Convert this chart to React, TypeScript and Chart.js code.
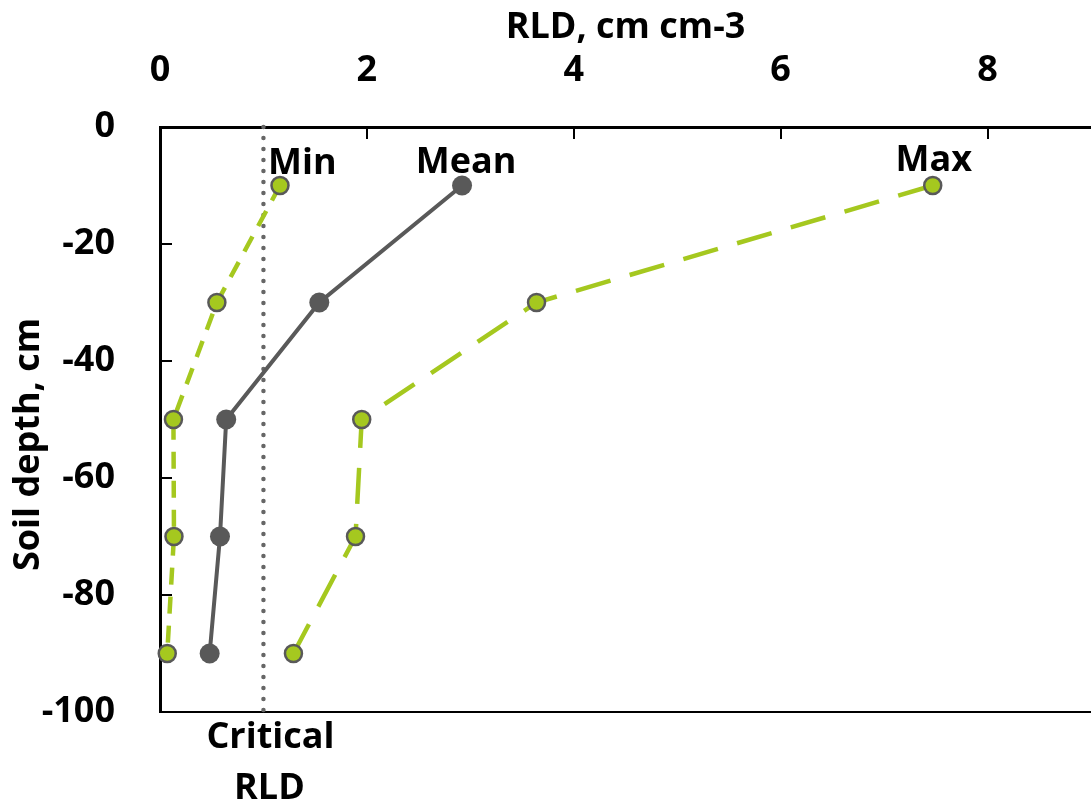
import React, { useEffect, useRef } from 'react';
import { Chart, registerables } from 'chart.js';

Chart.register(...registerables);

// ---- data ----
const depths = [-10, -30, -50, -70, -90];
const minRLD = [1.16, 0.55, 0.13, 0.135, 0.07];
const meanRLD = [2.92, 1.54, 0.64, 0.58, 0.48];
const maxRLD = [7.47, 3.64, 1.95, 1.89, 1.29];
const criticalRLD = 1.0;
const criticalDepthRange = [0, -100];

const xRange = [0, 9];
const xStep = 2;
const yRange = [-100, 0];
const yStep = 20;

const xTitle = 'RLD, cm cm-3';
const yTitle = 'Soil depth, cm';
const seriesNames = ['Min', 'Mean', 'Max'];
const criticalLabel = ['Critical', 'RLD'];

// ---- styles ----
const GREEN = '#A5C81F';
const GRAY = '#595959';
const FAMILY = '"Open Sans", "Noto Sans", sans-serif';
const FONT_SIZE = 36;
const FONT_CSS = `bold ${FONT_SIZE}px ${FAMILY}`;

const toPoints = (xs: number[]) => xs.map((x, i) => ({ x, y: depths[i] }));

const decorations = {
  id: 'decorations',
  beforeDatasetsDraw(chart: any) {
    const { ctx, chartArea: a, scales } = chart;
    const x = scales.x;
    const y = scales.y;
    ctx.save();
    ctx.strokeStyle = '#000';
    ctx.lineWidth = 2;
    ctx.beginPath();
    ctx.moveTo(a.left, a.bottom);
    ctx.lineTo(a.right, a.bottom);
    x.ticks.forEach((t: any) => {
      const px = Math.round(x.getPixelForValue(t.value));
      ctx.moveTo(px, a.top);
      ctx.lineTo(px, a.top + 12);
    });
    y.ticks.forEach((t: any) => {
      const py = Math.round(y.getPixelForValue(t.value));
      ctx.moveTo(a.left, py);
      ctx.lineTo(a.left + 12, py);
    });
    ctx.stroke();
    ctx.restore();
  },
  afterDraw(chart: any) {
    const { ctx, chartArea: a, scales } = chart;
    const x = scales.x;
    const y = scales.y;
    ctx.save();
    ctx.fillStyle = '#000';
    ctx.font = FONT_CSS;
    ctx.textBaseline = 'alphabetic';

    // series labels near the first (shallowest) point
    const y0 = y.getPixelForValue(depths[0]);
    ctx.textAlign = 'left';
    ctx.fillText(seriesNames[0], x.getPixelForValue(minRLD[0]) - 12, y0 - 12);
    ctx.textAlign = 'center';
    ctx.fillText(seriesNames[1], x.getPixelForValue(meanRLD[0]) + 4, y0 - 13);
    ctx.fillText(seriesNames[2], x.getPixelForValue(maxRLD[0]) + 1, y0 - 15);

    // critical RLD label below the axis
    const cx = x.getPixelForValue(criticalRLD) + 7;
    ctx.fillText(criticalLabel[0], cx, a.bottom + 36);
    ctx.fillText(criticalLabel[1], cx - 1, a.bottom + 87);

    // y-axis title
    ctx.translate(29, (a.top + a.bottom) / 2 + 25);
    ctx.rotate(-Math.PI / 2);
    ctx.textAlign = 'center';
    ctx.textBaseline = 'middle';
    ctx.fillText(yTitle, 0, 0);
    ctx.restore();
  },
};

export default function App() {
  const ref = useRef<HTMLCanvasElement>(null);

  useEffect(() => {
    document.body.style.margin = '0';
    document.body.style.overflow = 'hidden';
    let chart: Chart | null = null;
    let cancelled = false;

    const build = () => {
      if (cancelled || !ref.current) return;
      const tickFont = { family: FAMILY, size: FONT_SIZE, weight: 'bold' as const };
      chart = new Chart(ref.current, {
        type: 'scatter',
        data: {
          datasets: [
            {
              label: 'Mean',
              data: toPoints(meanRLD),
              showLine: true,
              borderColor: GRAY,
              borderWidth: 4,
              pointRadius: 10,
              pointBackgroundColor: GRAY,
              pointBorderColor: GRAY,
              pointBorderWidth: 0,
              clip: false,
            },
            {
              label: 'Min',
              data: toPoints(minRLD),
              showLine: true,
              borderColor: GREEN,
              borderWidth: 4.5,
              borderDash: [17, 12],
              pointRadius: 8.5,
              pointBackgroundColor: GREEN,
              pointBorderColor: GRAY,
              pointBorderWidth: 2.5,
              clip: false,
            },
            {
              label: 'Max',
              data: toPoints(maxRLD),
              showLine: true,
              borderColor: GREEN,
              borderWidth: 4.5,
              borderDash: [36, 20],
              pointRadius: 8.5,
              pointBackgroundColor: GREEN,
              pointBorderColor: GRAY,
              pointBorderWidth: 2.5,
              clip: false,
            },
            {
              label: 'Critical RLD',
              data: criticalDepthRange.map((d) => ({ x: criticalRLD, y: d })),
              showLine: true,
              borderColor: '#666666',
              borderWidth: 4.5,
              borderDash: [0, 11],
              borderCapStyle: 'round',
              pointRadius: 0,
              clip: false,
            },
          ] as any,
        },
        options: {
          responsive: false,
          animation: false,
          devicePixelRatio: 1,
          layout: { autoPadding: false, padding: { top: 0, left: 0, right: 0, bottom: 89 } },
          plugins: {
            legend: { display: false },
            tooltip: { enabled: false },
          },
          scales: {
            x: {
              type: 'linear',
              position: 'top',
              min: xRange[0],
              max: xRange[1],
              ticks: {
                stepSize: xStep,
                includeBounds: false,
                padding: 35,
                color: '#000',
                font: tickFont,
                maxRotation: 0,
                autoSkip: false,
              },
              grid: { display: false, drawTicks: false },
              border: { display: true, color: '#000', width: 3 },
              title: {
                display: true,
                text: xTitle,
                color: '#000',
                font: tickFont,
                padding: { top: 6, bottom: 0 },
              },
              afterFit: (s: any) => {
                s.height = 127;
                s.paddingLeft = 0;
                s.paddingRight = 0;
              },
            },
            y: {
              type: 'linear',
              position: 'left',
              min: yRange[0],
              max: yRange[1],
              ticks: {
                stepSize: yStep,
                padding: 45,
                color: '#000',
                font: tickFont,
                autoSkip: false,
              },
              grid: { display: false, drawTicks: false },
              border: { display: true, color: '#000', width: 3 },
              afterFit: (s: any) => {
                s.width = 160;
                s.paddingTop = 0;
                s.paddingBottom = 0;
              },
            },
          },
        } as any,
        plugins: [decorations],
      });
    };

    const fontsReady = (document as any).fonts?.load
      ? (document as any).fonts.load(FONT_CSS, 'RLD0123456789')
      : Promise.resolve();
    Promise.resolve(fontsReady).then(build, build);

    return () => {
      cancelled = true;
      if (chart) chart.destroy();
    };
  }, []);

  return (
    <canvas
      ref={ref}
      width={1091}
      height={801}
      style={{ display: 'block', width: 1091, height: 801 }}
    />
  );
}
